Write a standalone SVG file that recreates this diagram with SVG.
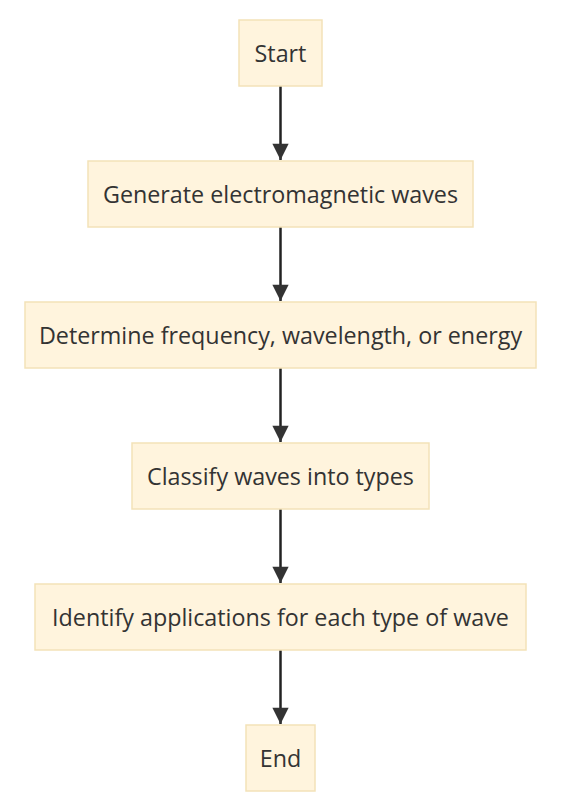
<svg xmlns="http://www.w3.org/2000/svg" width="580" height="805" viewBox="0 0 580 805">
<defs>
<style>
.node rect{fill:#fff4dd;stroke:#f3e2b8;stroke-width:1.5}
.node text{font-family:"Open Sans","Noto Sans",sans-serif;font-size:23.3px;fill:#333;text-anchor:middle;dominant-baseline:central}
.edge{stroke:#222;stroke-width:2.5;fill:none}
</style>
<marker id="arr" viewBox="0 0 10 10" refX="10" refY="5" markerWidth="7" markerHeight="6.5" markerUnits="strokeWidth" orient="auto">
<path d="M0,0 L10,5 L0,10 z" fill="#333"/>
</marker>
</defs>
<g id="connectors">
<path class="edge" d="M280.5,86 L280.5,160" marker-end="url(#arr)"/>
<path class="edge" d="M280.5,227 L280.5,301" marker-end="url(#arr)"/>
<path class="edge" d="M280.5,368 L280.5,442" marker-end="url(#arr)"/>
<path class="edge" d="M280.5,509 L280.5,583" marker-end="url(#arr)"/>
<path class="edge" d="M280.5,650 L280.5,724" marker-end="url(#arr)"/>
</g>
<g id="start" class="node"><rect x="239" y="20" width="83" height="66"/><text x="280.5" y="53">Start</text></g>
<g id="generate" class="node"><rect x="88" y="161" width="385" height="66"/><text x="280.5" y="194">Generate electromagnetic waves</text></g>
<g id="determine" class="node"><rect x="25" y="302" width="511" height="66"/><text x="280.5" y="335">Determine frequency, wavelength, or energy</text></g>
<g id="classify" class="node"><rect x="132" y="443" width="297" height="66"/><text x="280.5" y="476">Classify waves into types</text></g>
<g id="identify" class="node"><rect x="35" y="584" width="491" height="66"/><text x="280.5" y="617">Identify applications for each type of wave</text></g>
<g id="end" class="node"><rect x="246" y="725" width="69" height="66"/><text x="280.5" y="758">End</text></g>
</svg>
